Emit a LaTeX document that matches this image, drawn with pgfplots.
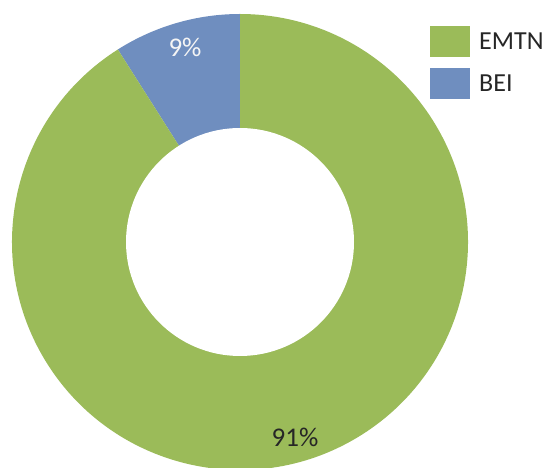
\documentclass[border=0pt]{standalone}
\usepackage{fontspec}
\setmainfont{Carlito}
\usepackage{pgfplots}
\usepackage{pgfplotstable}
\pgfplotsset{compat=1.18}
\definecolor{cgreen}{HTML}{9BBB59}
\definecolor{cblue}{HTML}{6F8EBF}
\pgfplotstableread{
name value
EMTN 91
BEI 9
}\datatable
\begin{document}
\begin{tikzpicture}
\pgfplotstablegetelem{0}{value}\of\datatable \let\vA\pgfplotsretval
\pgfplotstablegetelem{1}{value}\of\datatable \let\vB\pgfplotsretval
\pgfmathsetmacro{\aS}{90}
\pgfmathsetmacro{\aB}{90+\vB*3.6}
\pgfmathsetmacro{\aE}{\aB+\vA*3.6}
\begin{axis}[
  width=548bp, height=468bp, scale only axis,
  xmin=0, xmax=548, ymin=0, ymax=468,
  hide axis, clip=true,
]
\addplot[draw=none] coordinates {(0,0) (548,468)};
% BEI slice
\fill[cblue] (axis cs:240,226) -- ++(\aS:228bp) arc[start angle=\aS, end angle=\aB, radius=228bp] -- cycle;
% EMTN slice
\fill[cgreen] (axis cs:240,226) -- ++(\aB:228bp) arc[start angle=\aB, end angle=\aE, radius=228bp] -- cycle;
% hole
\fill[white] (axis cs:240,226) circle[radius=114bp];
% labels
\node[text=white!92!gray, font=\fontsize{27bp}{29bp}\selectfont] at (axis cs:185,421) {9\%};
\node[text=black!85, font=\fontsize{27bp}{29bp}\selectfont] at (axis cs:295,31) {91\%};
% legend
\fill[cgreen] (axis cs:430,411) rectangle (axis cs:470,442);
\fill[cblue] (axis cs:430,369) rectangle (axis cs:470,400);
\node[anchor=west, text=black!85, font=\fontsize{26bp}{28bp}\selectfont, inner sep=0pt] at (axis cs:479,426.5) {EMTN};
\node[anchor=west, text=black!85, font=\fontsize{26bp}{28bp}\selectfont, inner sep=0pt] at (axis cs:479,384.5) {BEI};
\end{axis}
\end{tikzpicture}
\end{document}
